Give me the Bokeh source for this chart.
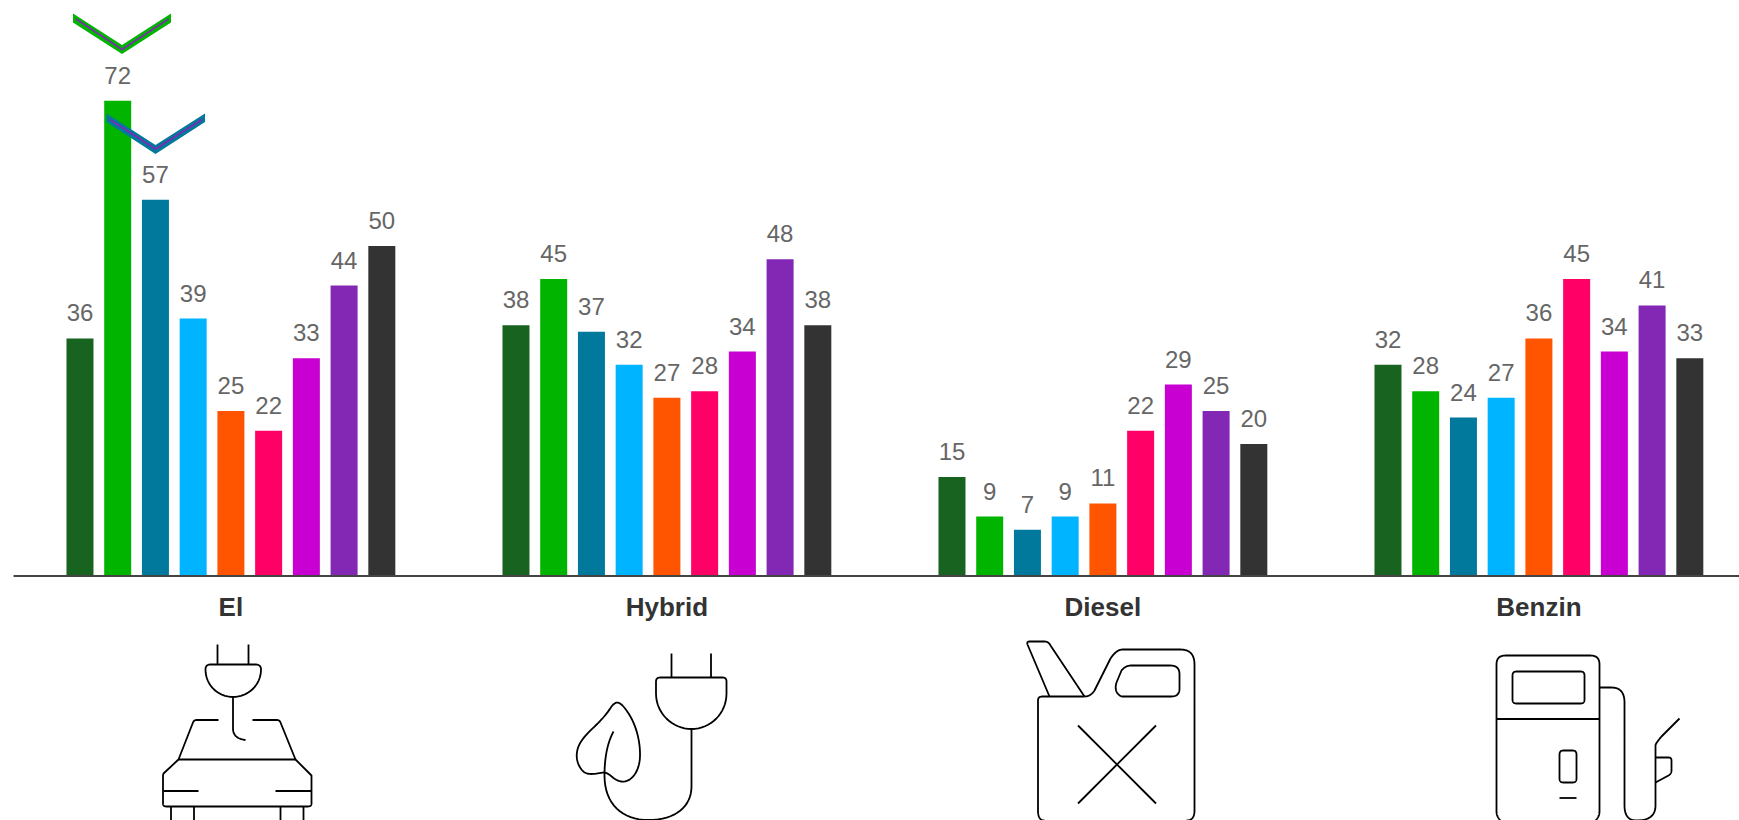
import re
import numpy as np
from bokeh.core.properties import value
from bokeh.embed import file_html
from bokeh.models import ColumnDataSource, Range1d
from bokeh.plotting import figure
from bokeh.resources import INLINE

categories = ["El", "Hybrid", "Diesel", "Benzin"]
colors = ["#17631F", "#00B400", "#00799C", "#00B4FF", "#FF5500",
          "#FF0066", "#C800D2", "#8228B4", "#333333"]
el = [36, 72, 57, 39, 25, 22, 33, 44, 50]
hybrid = [38, 45, 37, 32, 27, 28, 34, 48, 38]
diesel = [15, 9, 7, 9, 11, 22, 29, 25, 20]
benzin = [32, 28, 24, 27, 36, 45, 34, 41, 33]
groups = [el, hybrid, diesel, benzin]

W, H = 1739, 820
BASE_Y = 575.5       # pixel row of the zero line
PX_PER_UNIT = 6.6    # pixels per value unit
GROUP_STEP = 436.0   # pixels per category
BAR_STEP = 37.73 / GROUP_STEP
BAR_W = 27.0 / GROUP_STEP
FIRST_CENTER = 230.4


def flatten(path):
    """Turn a small SVG-like path (M, L, Q, C) into a list of pixel points."""
    tokens = re.findall(r"[MLQC]|-?\d+\.?\d*", path)
    i, cmd = 0, None
    xs, ys = [], []
    while i < len(tokens):
        if tokens[i] in "MLQC":
            cmd = tokens[i]
            i += 1
        n = {"M": 2, "L": 2, "Q": 4, "C": 6}[cmd]
        a = [float(t) for t in tokens[i:i + n]]
        i += n
        if cmd in "ML":
            xs.append(a[0]); ys.append(a[1])
        else:
            ctrl = [(xs[-1], ys[-1])] + [(a[k], a[k + 1]) for k in range(0, n, 2)]
            for t in np.linspace(0, 1, 17)[1:]:
                c = ctrl
                while len(c) > 1:
                    c = [((1 - t) * p[0] + t * q[0], (1 - t) * p[1] + t * q[1])
                         for p, q in zip(c, c[1:])]
                xs.append(c[0][0]); ys.append(c[0][1])
    return xs, ys


# Icon outlines in page pixels
icon_car = [
    "M217 644 L217 664", "M248 644 L248 664",
    "M210 664 L255 664 Q260.5 664 260.5 669 C260.5 685 247 696.5 232.5 696.5 C218 696.5 205 685 205 669 Q205 664 210 664",
    "M232.5 696.5 L232.5 728 Q232.5 738 245 739.5",
    "M218 719.5 L196 719.5 Q193.5 719.5 192.5 722 L178 759 L163 773 L162.5 775 L162.5 803 Q162.5 806 166 806 L307 806 Q311 806 311 803 L311 775 L295 759 L280 722 Q279 719.5 276.5 719.5 L252 719.5",
    "M178 759 L295 759", "M163 790.5 L198 790.5", "M275 790.5 L311 790.5",
    "M170.5 806 L170.5 820", "M193.5 806 L193.5 820",
    "M280 806 L280 820", "M303 806 L303 820",
]
icon_hybrid = [
    "M671 653 L671 677", "M710.5 653 L710.5 677",
    "M660 677 L722 677 Q726 677 726 681 L726 693 C726 713 710 728.5 691 728.5 C672 728.5 655.5 713 655.5 693 L655.5 681 Q655.5 677 660 677",
    "M691 728.5 L691 786 C691 806 675 819.5 648 819.5 C622 819.5 604 804 604 775 C604 757 607 742 613 731",
    "M611 706 C615 701 618 701 622 705 C634 718 640 738 639.5 756 C639 771 631 782 621 781 C613 780 610 773 604 772 C595 773 586 776 581 769 C574 760 575 748 582 739 C589 729 601 722 611 706",
]
icon_can = [
    "M1049 696 L1027 644 Q1026 641 1029 641 L1044 641 Q1048 641 1050 645 L1084 696",
    "M1084 696 Q1090 696 1094 690 L1110 658 Q1116 649 1122 649 L1180 649 Q1194 649 1194 664 L1194 810 Q1194 820 1186 820",
    "M1084 696 L1042 696 Q1037.5 696 1037.5 700 L1037.5 810 Q1037.5 820 1044 820",
    "M1121 696 L1171 696 Q1179 696 1179 688 L1179 674 Q1179 665 1170 665 L1131 665 Q1125 665 1121 670 L1116 682 Q1113 692 1121 696",
    "M1077.5 725 L1155.5 803", "M1155.5 725 L1077.5 803",
]
icon_pump = [
    "M1500 820 Q1496 816 1496 811 L1496 664 Q1496 655 1505 655 L1590 655 Q1599 655 1599 664 L1599 811 Q1599 816 1595 820",
    "M1516 671 L1580 671 Q1584 671 1584 675 L1584 699 Q1584 703 1580 703 L1516 703 Q1512 703 1512 699 L1512 675 Q1512 671 1516 671",
    "M1496.5 718.5 L1599 718.5",
    "M1563 750 L1572 750 Q1576 750 1576 754 L1576 778 Q1576 782 1572 782 L1563 782 Q1559 782 1559 778 L1559 754 Q1559 750 1563 750",
    "M1559 797.5 L1576 797.5",
    "M1599 687 L1611 687 Q1624 687 1624 702 L1624 805 Q1624 820 1636 820 Q1655 820 1655 805 L1655 745 Q1655 743 1661 736 L1679 718",
    "M1655 757 L1668 757 Q1671 757 1671 760 L1671 770 Q1671 773 1668 775 L1655 782",
]
icon_paths = icon_car + icon_hybrid + icon_can + icon_pump

# Chevron markers: outer band and centre stroke, in page pixels
chevrons = [
    ([72.5, 121.5, 170.5, 170.5, 121.5, 72.5], [13, 44.5, 13, 22, 53.5, 22], colors[1]),
    ([106, 155, 204.5, 204.5, 155, 106], [113, 144.5, 113, 121.5, 153.5, 121.5], colors[2]),
]
chevron_lines = [
    ([75.5, 121.5, 168], [18.5, 49, 18.5]),
    ([109.5, 155, 201.5], [119, 148.5, 119]),
]

# Value range chosen so that zero lands on the baseline pixel row
y_top = BASE_Y / PX_PER_UNIT
y_bottom = (BASE_Y - H) / PX_PER_UNIT
x_left = -FIRST_CENTER / GROUP_STEP
x_right = (W - FIRST_CENTER) / GROUP_STEP

p = figure(width=W, height=H, output_backend="svg", toolbar_location=None,
           x_range=Range1d(x_left, x_right), y_range=Range1d(y_bottom, y_top),
           min_border=0, outline_line_color=None, background_fill_color="white",
           border_fill_color="white")
p.axis.visible = False
p.grid.visible = False
p.extra_x_ranges["px"] = Range1d(0, W)
p.extra_y_ranges["px"] = Range1d(H, 0)

offsets = [(k - 4) * BAR_STEP for k in range(len(colors))]
xs, tops, fills, labels = [], [], [], []
for gi, vals in enumerate(groups):
    for k, v in enumerate(vals):
        xs.append(gi + offsets[k])
        tops.append(v)
        fills.append(colors[k])
        labels.append(str(v))
src = ColumnDataSource(dict(x=xs, top=tops, fill=fills, label=labels))

p.vbar(x="x", top="top", bottom=0, width=BAR_W, fill_color="fill", line_color=None, source=src)
p.text(x="x", y="top", text="label", source=src, text_align="center", text_baseline="alphabetic",
       y_offset=-25.5, text_font=value("Liberation Sans"), text_font_size="24px", text_color="#666666")

# Zero line across the plot
p.segment(x0=[(13 - FIRST_CENTER) / GROUP_STEP], x1=[x_right], y0=[0], y1=[0],
          line_color="#444444", line_width=2)

p.text(x=list(range(len(categories))), y=[0] * len(categories), text=categories,
       text_align="center", text_baseline="alphabetic", y_offset=31,
       text_font=value("Liberation Sans"), text_font_style="bold", text_font_size="26px",
       text_color="#333333")

for cx, cy, c in chevrons:
    p.patch(cx, cy, fill_color=c, line_color=None, x_range_name="px", y_range_name="px")
for lx, ly in chevron_lines:
    p.line(lx, ly, line_color=colors[7], line_width=1.5, x_range_name="px", y_range_name="px")

for path in icon_paths:
    ix, iy = flatten(path)
    p.line(ix, iy, line_color="#000000", line_width=1.8, line_join="round",
           x_range_name="px", y_range_name="px")

open("out.html", "w").write(file_html(p, INLINE))
